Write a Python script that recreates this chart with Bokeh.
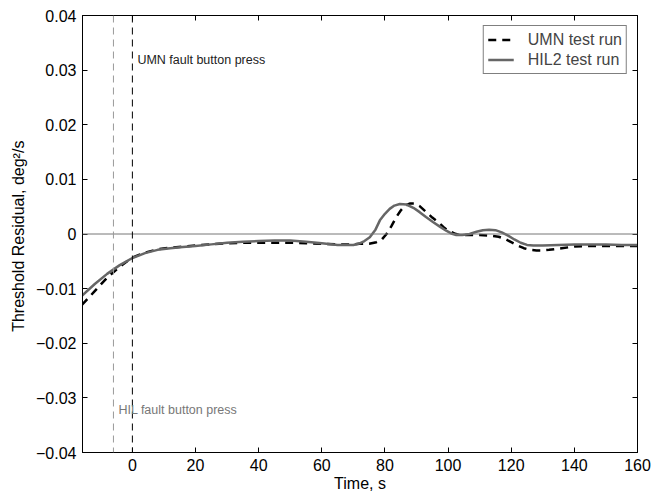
from bokeh.plotting import figure
from bokeh.models import (LinearAxis, FixedTicker, Span, Label, Legend, LegendItem,
                          CustomJSTickFormatter, Range1d)
from bokeh.embed import file_html
from bokeh.resources import INLINE

# ---- data ----
umn_t = [-16, -12, -8, -4, 0, 4, 8, 12, 16, 20, 25, 30, 35, 40, 45, 50, 55, 60, 65, 70,
         72, 75, 77.3, 79, 80.5, 82, 83.6, 85, 86.3, 88, 89.4, 91, 93.1, 95, 96.8, 98.5,
         100, 102, 103.7, 106, 110, 113, 116, 118, 120, 122, 124, 126, 128, 130, 132,
         136, 140, 145, 150, 155, 160]
umn_v = [-0.0130, -0.0105, -0.0080, -0.0060, -0.0043, -0.0034, -0.0028, -0.0025, -0.0023,
         -0.0021, -0.0019, -0.0017, -0.0016, -0.0016, -0.0016, -0.0016, -0.0017, -0.0018,
         -0.0019, -0.0019, -0.0018, -0.0018, -0.0015, -0.0010, 0.0000, 0.0014, 0.0031,
         0.0043, 0.0052, 0.0056, 0.0056, 0.0051, 0.0040, 0.0030, 0.0022, 0.0013,
         0.0006, 0.0001, -0.0002, -0.0002, -0.0002, -0.0003, -0.0005, -0.0009, -0.0015,
         -0.0021, -0.0026, -0.0029, -0.0030, -0.0030, -0.0029, -0.0026, -0.0023,
         -0.0022, -0.0022, -0.0022, -0.0022]

hil_t = [-16, -12, -8, -4, 0, 4, 8, 12, 16, 20, 25, 30, 35, 40, 45, 50, 55, 60, 65, 70,
         72, 73.5, 75.2, 77, 78.4, 80, 81.5, 83, 84.7, 86.8, 89, 91, 93, 95.2, 97.5, 99.4,
         101, 102.6, 104.5, 106.8, 109, 111, 113, 115, 117, 119, 121, 123, 125, 127,
         130, 135, 140, 145, 150, 155, 160]
hil_v = [-0.0113, -0.0092, -0.0073, -0.0057, -0.0044, -0.0035, -0.0029, -0.0026, -0.0024,
         -0.0022, -0.0019, -0.0016, -0.0014, -0.0013, -0.0012, -0.0012, -0.0014, -0.0017,
         -0.0020, -0.0020, -0.0017, -0.0013, -0.0006, 0.0008, 0.0025, 0.0037, 0.0046,
         0.0052, 0.0055, 0.0054, 0.0048, 0.0040, 0.0031, 0.0022, 0.0013, 0.0006,
         0.0001, -0.0002, -0.0002, 0.0000, 0.0004, 0.0007, 0.0008, 0.0007, 0.0003,
         -0.0003, -0.0010, -0.0016, -0.0020, -0.0021, -0.0021, -0.0020, -0.0019,
         -0.0019, -0.0019, -0.0020, -0.0020]

x_ticks = [0, 20, 40, 60, 80, 100, 120, 140, 160]
y_ticks = [-0.04, -0.03, -0.02, -0.01, 0.0, 0.01, 0.02, 0.03, 0.04]
umn_press_t = 0
hil_press_t = -6
series_labels = ["UMN test run", "HIL2 test run"]

FONT = "Liberation Sans"

p = figure(width=669, height=497, output_backend="svg", toolbar_location=None,
           x_range=Range1d(-15.8, 160), y_range=Range1d(-0.04, 0.04),
           min_border_left=82, min_border_right=32, min_border_top=15, min_border_bottom=45)
p.xgrid.visible = False
p.ygrid.visible = False
p.outline_line_color = "black"
p.outline_line_width = 1
p.background_fill_color = "white"
p.border_fill_color = "white"

fmt = CustomJSTickFormatter(code="""
if (Math.abs(tick) < 1e-9) { return "0"; }
return tick.toFixed(2).replace("-", "\u2212");
""")

for ax in p.xaxis:
    ax.ticker = FixedTicker(ticks=x_ticks)
    ax.axis_label = "Time, s"
for ax in p.yaxis:
    ax.ticker = FixedTicker(ticks=y_ticks)
    ax.formatter = fmt
    ax.axis_label = "Threshold Residual,  deg\u00b2/s"

def style(ax, labels=True):
    ax.major_tick_in = 5
    ax.major_tick_out = 0
    ax.minor_tick_line_color = None
    ax.axis_line_color = "black"
    ax.major_tick_line_color = "black"
    ax.major_label_text_font = FONT
    ax.major_label_text_font_size = "16px"
    ax.major_label_text_color = "black"
    ax.major_label_standoff = 6
    ax.axis_label_text_font = FONT
    ax.axis_label_text_font_size = "16px"
    ax.axis_label_text_font_style = "normal"
    ax.axis_label_text_color = "black"
    if not labels:
        ax.major_label_text_font_size = "0px"
        ax.major_label_text_color = None

for ax in p.xaxis + p.yaxis:
    style(ax)
p.xaxis.axis_label_standoff = 1
p.yaxis.axis_label_standoff = 6

top = LinearAxis(ticker=FixedTicker(ticks=x_ticks))
style(top, labels=False)
p.add_layout(top, "above")
right = LinearAxis(ticker=FixedTicker(ticks=y_ticks))
style(right, labels=False)
p.add_layout(right, "right")

# zero line
p.add_layout(Span(location=0, dimension="width", line_color="#777777", line_width=1))
# button press lines
p.add_layout(Span(location=hil_press_t, dimension="height", line_color="#999999",
                  line_width=1, line_dash="7 5"))
p.add_layout(Span(location=umn_press_t, dimension="height", line_color="black",
                  line_width=1, line_dash="7 5"))

r_umn = p.line(umn_t, umn_v, line_color="black", line_width=2.5, line_dash="8 6")
r_hil = p.line(hil_t, hil_v, line_color="#666666", line_width=2.5)

p.add_layout(Label(x=umn_press_t, y=0.0318, x_offset=5, text="UMN fault button press",
                   text_font=FONT, text_font_size="12.5px", text_color="#222222",
                   text_baseline="middle"))
p.add_layout(Label(x=hil_press_t, y=-0.0322, x_offset=5, text="HIL fault button press",
                   text_font=FONT, text_font_size="12.5px", text_color="#777777",
                   text_baseline="middle"))

legend = Legend(items=[LegendItem(label=series_labels[0], renderers=[r_umn]),
                       LegendItem(label=series_labels[1], renderers=[r_hil])],
                location="top_right")
legend.border_line_color = "black"
legend.border_line_width = 1
legend.label_text_font = FONT
legend.label_text_font_size = "16px"
legend.glyph_width = 26
legend.glyph_height = 19
legend.label_height = 19
legend.spacing = 1
legend.padding = 4
legend.margin = 10
legend.label_standoff = 14
p.add_layout(legend)

open("out.html", "w").write(file_html(p, INLINE))
